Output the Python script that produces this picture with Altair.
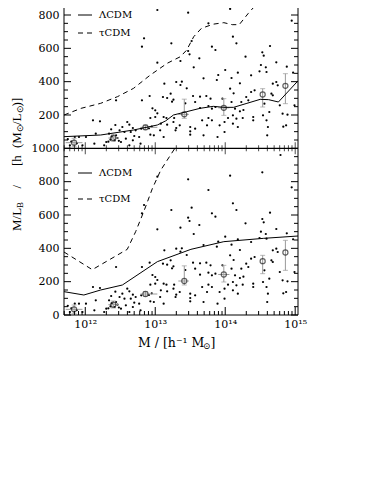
import altair as alt
import pandas as pd
import math

# ---------------- data ----------------
group_logm = [
    13.03, 13.47, 13.76, 13.23, 13.52, 13.81, 13.86, 13.47, 13.49, 13.63,
    13.03, 13.36, 13.55, 14.79, 14.53, 14.07, 14.95, 14.11, 14.16, 14.64,
    14.53, 14.55, 14.29, 14.73, 14.51, 14.58, 14.88, 12.84, 12.81, 14.00,
    14.18, 14.37, 14.49, 14.59, 14.97, 13.90, 14.09, 13.88, 13.69, 13.30,
    13.13, 13.38, 13.36, 13.45, 14.21,
    12.44, 12.81, 12.92, 13.11, 13.17, 13.22, 13.26, 13.54, 13.73, 13.79,
    13.57, 13.64, 13.76, 13.81, 13.86, 13.00, 14.73, 14.75, 14.68, 14.07,
    14.37, 14.42, 14.30, 14.33, 14.66, 14.68, 13.96, 14.09, 14.23, 14.56,
    14.78, 14.99, 14.14, 14.21, 14.63, 14.82, 14.89, 14.12, 14.26, 13.43,
    13.64, 12.96, 13.03, 13.24,
    12.11, 12.21, 12.43, 12.60, 12.63, 12.53, 12.68, 12.37, 12.49, 12.56,
    12.65, 12.72, 12.15, 12.34, 12.44, 11.85, 11.91, 12.01, 12.70, 12.77,
    12.58, 12.68, 12.51, 12.13, 12.27, 11.78, 11.96, 12.30, 12.63, 12.79,
    12.93, 13.00, 13.12, 13.16, 13.27, 13.08, 13.17, 13.26, 13.35, 13.30,
    13.29, 13.67, 13.76, 13.81, 13.74, 13.50, 13.50, 13.50, 13.57, 13.69,
    13.89, 12.93, 12.98, 13.12, 13.07, 14.11, 14.04, 14.16, 14.25, 14.40,
    14.54, 13.99, 14.11, 14.40, 14.59, 13.92, 14.18, 14.61, 14.87, 13.99,
    14.60, 14.83,
    12.36, 12.42, 12.38, 12.46, 12.33, 12.48, 11.80, 11.88, 11.75, 12.80,
    12.91, 12.95,
]
group_ml = [
    830, 814, 750, 630, 644, 610, 590, 584, 564, 540,
    514, 524, 486, 960, 856, 836, 766, 670, 630, 614,
    576, 556, 550, 516, 500, 486, 490, 660, 610, 470,
    454, 438, 462, 458, 454, 440, 422, 410, 420, 398,
    388, 400, 380, 360, 390,
    288, 288, 314, 308, 302, 328, 292, 314, 314, 298,
    278, 242, 254, 238, 248, 228, 398, 378, 388, 358,
    338, 348, 308, 288, 328, 318, 298, 278, 278, 268,
    258, 258, 238, 222, 218, 208, 202, 330, 230, 270,
    310, 240, 210, 280,
    168, 162, 140, 158, 142, 128, 122, 114, 108, 98,
    98, 108, 88, 88, 78, 68, 68, 68, 74, 68,
    58, 48, 38, 28, 18, 18, 18, 38, 18, 28,
    182, 188, 188, 182, 182, 148, 142, 158, 138, 122,
    108, 168, 182, 168, 138, 128, 102, 82, 118, 78,
    68, 82, 78, 68, 108, 198, 182, 178, 182, 188,
    198, 158, 148, 168, 168, 138, 128, 128, 138, 98,
    78, 130,
    52, 48, 70, 62, 40, 45, 40, 30, 55, 118,
    120, 130,
]

circle_logm = [11.84, 12.40, 12.86, 13.415, 13.98, 14.535, 14.86]
circle_ml = [34, 62, 126, 204, 243, 323, 375]
circle_lo = [10, 42, 112, 180, 198, 248, 268]
circle_hi = [60, 84, 140, 295, 298, 358, 448]
hbar_lo = [11.72, 12.33, 12.79, 13.33, 13.90]
hbar_hi = [11.96, 12.47, 13.03, 13.48, 14.06]
hbar_ml = [34, 62, 126, 204, 243]

lcdm_top_logm = [11.696, 12.22, 12.69, 13.03, 13.15, 13.26, 13.45, 13.64, 13.83,
                 13.98, 14.12, 14.31, 14.50, 14.62, 14.76, 15.04]
lcdm_top_ml = [70, 80, 110, 140, 165, 200, 220, 240, 252, 246, 246, 270, 294, 292, 278, 405]
tcdm_top_logm = [11.696, 11.94, 12.22, 12.46, 12.69, 12.93, 13.17, 13.24, 13.36, 13.45,
                 13.55, 13.66, 13.83, 13.98, 14.10, 14.20, 14.33, 14.50, 14.60]
tcdm_top_ml = [200, 240, 270, 310, 360, 440, 510, 525, 550, 590, 670, 720, 745, 754,
               742, 742, 810, 890, 950]
lcdm_bot_logm = [11.696, 11.98, 12.22, 12.53, 13.03, 13.51, 13.98, 14.55, 15.04]
lcdm_bot_ml = [140, 120, 150, 180, 320, 394, 440, 460, 474]
tcdm_bot_logm = [11.696, 12.10, 12.60, 12.72, 12.84, 12.96, 13.08, 13.28]
tcdm_bot_ml = [378, 272, 394, 500, 625, 760, 870, 1000]

y_major = [0, 200, 400, 600, 800, 1000, 1200, 1400, 1600, 1800]
x_major_exp = [12, 13, 14, 15]

# ---------------- layout ----------------
OFFSET = 1000          # upper panel is stacked above the lower one
YMAX = 1842
W, H = 234, 307
LOGMIN, LOGMAX = 11.696, 15.04

xs = alt.Scale(type="log", domain=[10 ** LOGMIN, 10 ** LOGMAX], nice=False)
ys = alt.Scale(domain=[0, YMAX], nice=False, zero=False)
xaxis = alt.Axis(values=[10.0 ** e for e in x_major_exp], ticks=False, domain=False,
                 grid=False, title=None, labelFont="DejaVu Serif", labelFontSize=11,
                 labelColor="black", labelPadding=3, labelFlush=False,
                 labelExpr="'10' + ['¹²','¹³','¹⁴','¹⁵'][round(log(datum.value)/LN10) - 12]")
yaxis = alt.Axis(values=y_major, ticks=False, domain=False, grid=False, title=None,
                 labelFont="DejaVu Serif", labelFontSize=11, labelColor="black",
                 labelPadding=5,
                 labelExpr="'' + (datum.value > 1000 ? datum.value - 1000 : datum.value)")


def X(f):
    return alt.X(f, type="quantitative", scale=xs, axis=xaxis)


def Y(f):
    return alt.Y(f, type="quantitative", scale=ys, axis=yaxis)


# scatter (same groups in both panels)
pts = pd.DataFrame({"m": [10 ** v for v in group_logm], "ml": group_ml})
pts_all = pd.concat([pts.assign(y=pts.ml), pts.assign(y=pts.ml + OFFSET)])

circ = pd.DataFrame({"m": [10 ** v for v in circle_logm], "ml": circle_ml,
                     "lo": circle_lo, "hi": circle_hi})
circ_all = pd.concat([
    circ.assign(y=circ.ml, ylo=circ.lo, yhi=circ.hi),
    circ.assign(y=circ.ml + OFFSET, ylo=circ.lo + OFFSET, yhi=circ.hi + OFFSET),
])
hb = pd.DataFrame({"m1": [10 ** v for v in hbar_lo], "m2": [10 ** v for v in hbar_hi],
                   "ml": hbar_ml})
hb_all = pd.concat([hb.assign(y=hb.ml), hb.assign(y=hb.ml + OFFSET)])


def curve(logm, ml, panel, off):
    return pd.DataFrame({"m": [10 ** v for v in logm], "y": [v + off for v in ml],
                         "panel": panel})


solid = pd.concat([curve(lcdm_top_logm, lcdm_top_ml, "top", OFFSET),
                   curve(lcdm_bot_logm, lcdm_bot_ml, "bot", 0)])
dashed = pd.concat([curve(tcdm_top_logm, tcdm_top_ml, "top", OFFSET),
                    curve(tcdm_bot_logm, tcdm_bot_ml, "bot", 0)])

yt_major = pd.DataFrame({"v": y_major})
yt_minor = pd.DataFrame({"v": [v for v in range(0, YMAX, 50) if v % 200]})
xt_major = pd.DataFrame({"m": [10.0 ** e for e in x_major_exp], "mid": OFFSET})
xt_minor = pd.DataFrame({"m": [k * 10.0 ** e for e in range(11, 15) for k in range(2, 10)
                               if LOGMIN < e + math.log10(k) < LOGMAX],
                         "mid": OFFSET})
mid = pd.DataFrame({"y": [OFFSET]})
one = alt.Data(values=[{}])

layers = []
layers.append(alt.Chart(pts_all).mark_circle(size=5, color="black", opacity=1, clip=True)
              .encode(x=X("m"), y=Y("y")))
layers.append(alt.Chart(circ_all).mark_rule(color="#9a9a9a", strokeWidth=1, clip=True)
              .encode(x=X("m"), y=Y("ylo"), y2="yhi"))
for f in ["ylo", "yhi"]:
    layers.append(alt.Chart(circ_all).mark_tick(orient="horizontal", size=5, thickness=1,
                                                color="#9a9a9a", clip=True)
                  .encode(x=X("m"), y=Y(f)))
layers.append(alt.Chart(hb_all).mark_rule(color="#9a9a9a", strokeWidth=1, clip=True)
              .encode(x=X("m1"), x2="m2", y=Y("y")))
layers.append(alt.Chart(circ_all).mark_point(shape="circle", filled=False, size=26,
                                             color="#222222", strokeWidth=1.2, clip=True)
              .encode(x=X("m"), y=Y("y")))
layers.append(alt.Chart(solid).mark_line(color="black", strokeWidth=1, clip=True)
              .encode(x=X("m"), y=Y("y"), detail="panel:N"))
layers.append(alt.Chart(dashed).mark_line(color="black", strokeWidth=1, strokeDash=[5, 4],
                                          clip=True)
              .encode(x=X("m"), y=Y("y"), detail="panel:N"))

# frame
layers.append(alt.Chart(one).mark_rule(color="black", strokeWidth=1)
              .encode(x=alt.value(0), y=alt.value(0), y2=alt.value(H)))
layers.append(alt.Chart(one).mark_rule(color="black", strokeWidth=1)
              .encode(x=alt.value(W), y=alt.value(0), y2=alt.value(H)))
layers.append(alt.Chart(one).mark_rule(color="black", strokeWidth=1)
              .encode(x=alt.value(0), x2=alt.value(W), y=alt.value(H)))
layers.append(alt.Chart(mid).mark_rule(color="black", strokeWidth=1.3)
              .encode(x=alt.value(0), x2=alt.value(W), y=Y("y")))

# inward ticks
for df, ln in [(yt_major, 7), (yt_minor, 4)]:
    layers.append(alt.Chart(df).mark_rule(color="black", strokeWidth=1)
                  .encode(y=Y("v"), x=alt.value(0), x2=alt.value(ln)))
    layers.append(alt.Chart(df).mark_rule(color="black", strokeWidth=1)
                  .encode(y=Y("v"), x=alt.value(W), x2=alt.value(W - ln)))
for df, ln, ms in [(xt_major, 8, 12), (xt_minor, 4, 6)]:
    layers.append(alt.Chart(df).mark_rule(color="black", strokeWidth=1)
                  .encode(x=X("m"), y=alt.value(H), y2=alt.value(H - ln)))
    layers.append(alt.Chart(df).mark_tick(orient="vertical", size=ms, thickness=1,
                                          color="black")
                  .encode(x=X("m"), y=Y("mid")))

# legends
for ly, label, dash in [(7, "ΛCDM", None), (25, "τCDM", [5, 4]),
                        (165, "ΛCDM", None), (191, "τCDM", [5, 4])]:
    kw = {"strokeDash": dash} if dash else {}
    layers.append(alt.Chart(one).mark_rule(color="black", strokeWidth=1, **kw)
                  .encode(x=alt.value(14), x2=alt.value(28), y=alt.value(ly)))
    layers.append(alt.Chart(one).mark_text(align="left", baseline="middle",
                                           font="DejaVu Serif", fontSize=10, color="black")
                  .encode(x=alt.value(35), y=alt.value(ly), text=alt.value(label)))

# y-axis title pieces (rotated)
ytitle = [("M/L", 223, 13, 0), ("B", 200, 9, 3), ("/", 180.5, 13, 0), ("[h", 158, 13, 0),
          ("(M", 140, 13, 0), ("⊙", 124, 9, 3), ("/L", 117, 13, 0), ("⊙", 105.4, 9, 3),
          (")]", 98.4, 13, 0)]
for txt, py, fs, dx in ytitle:
    layers.append(alt.Chart(one).mark_text(align="left", baseline="middle", angle=270,
                                           font="Liberation Serif", fontSize=fs,
                                           color="black")
                  .encode(x=alt.value(-47 + dx), y=alt.value(py), text=alt.value(txt)))

# x-axis title pieces
xtitle = [("M / [h⁻¹ M", 74, 12.5, 0), ("⊙", 139, 9, 3), ("]", 146.5, 12.5, 0)]
for txt, px, fs, dy in xtitle:
    layers.append(alt.Chart(one).mark_text(align="left", baseline="middle",
                                           font="DejaVu Serif", fontSize=fs, color="black")
                  .encode(x=alt.value(px), y=alt.value(335 + dy), text=alt.value(txt)))

chart = (alt.layer(*layers)
         .properties(width=W, height=H,
                     padding={"left": 56, "top": 0, "right": 30, "bottom": 50},
                     autosize=alt.AutoSizeParams(type="none"), background="white")
         .configure_view(strokeWidth=0))

chart.save("out.html", embed_options={"renderer": "svg", "actions": False})
